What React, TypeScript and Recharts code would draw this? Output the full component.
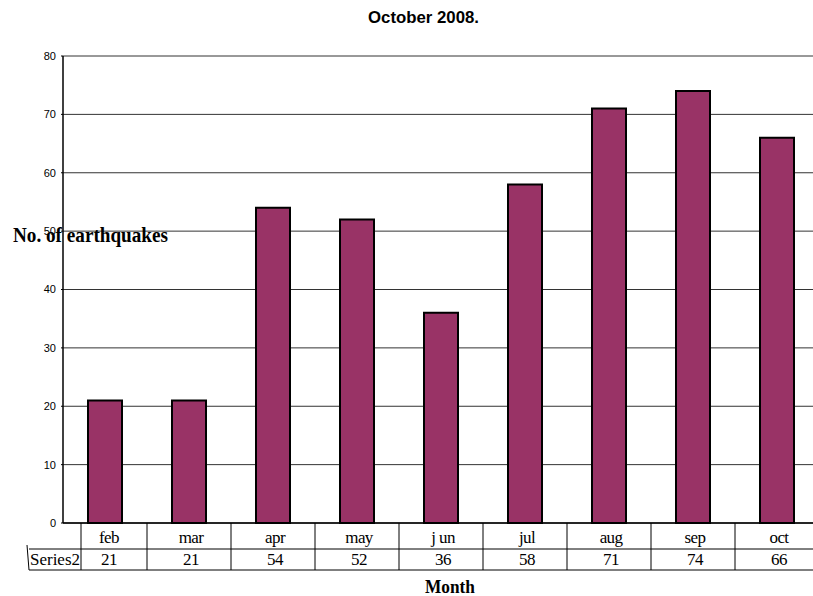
import React from 'react';
import { BarChart, Bar, XAxis, YAxis, CartesianGrid } from 'recharts';

const months = ['feb', 'mar', 'apr', 'may', 'j un', 'jul', 'aug', 'sep', 'oct'];
const quakes = [21, 21, 54, 52, 36, 58, 71, 74, 66];
const yTicks = [0, 10, 20, 30, 40, 50, 60, 70, 80];
const seriesName = 'Series2';
const titleText = 'October 2008.';
const yLabelText = 'No. of earthquakes';
const xLabelText = 'Month';

const data = months.map((m, i) => ({ month: m, value: quakes[i] }));

const SERIF = '"Liberation Serif", "Times New Roman", serif';
const SANS = '"Liberation Sans", Arial, sans-serif';

const TableTick = (props: any) => {
  const { x, y, index, payload } = props;
  const band = 84;
  const half = band / 2;
  const top = y;
  const rowSep = y + 26;
  const bottom = y + 47;
  const leftCell = x - half + 18;
  const parts: any[] = [];
  if (index === 0) {
    parts.push(
      <line key="h1" x1={29} y1={rowSep} x2={830} y2={rowSep} stroke="#000" strokeWidth={1} />,
      <line key="h2" x1={29} y1={bottom} x2={830} y2={bottom} stroke="#000" strokeWidth={1} />,
      <line key="d" x1={27} y1={rowSep - 4} x2={29} y2={bottom} stroke="#000" strokeWidth={1} />,
      <line key="v0" x1={leftCell} y1={top} x2={leftCell} y2={bottom} stroke="#000" strokeWidth={1} />,
      <text key="s" x={30} y={bottom - 5} fontFamily={SERIF} fontSize={16} fill="#000" textLength={50} lengthAdjust="spacingAndGlyphs">
        {seriesName}
      </text>
    );
  }
  const cx = index === 0 ? x + 4 : x + 2;
  parts.push(
    <line key="v" x1={x + half} y1={top} x2={x + half} y2={bottom} stroke="#000" strokeWidth={1} />,
    <text key="c" x={cx} y={top + 20} textAnchor="middle" fontFamily={SERIF} fontSize={17} fill="#000" letterSpacing={-0.6}>
      {payload.value}
    </text>,
    <text key="n" x={cx} y={bottom - 5} textAnchor="middle" fontFamily={SERIF} fontSize={17} fill="#000" letterSpacing={-0.6}>
      {String(data[index].value)}
    </text>
  );
  return <g>{parts}</g>;
};

export default function App() {
  return (
    <div style={{ position: 'absolute', left: 0, top: 0, width: 813, height: 596, overflow: 'hidden', background: '#fff' }}>
      <BarChart
        width={830}
        height={596}
        data={data}
        margin={{ top: 56, right: 11, bottom: 0, left: 0 }}
        barCategoryGap={25}
      >
        <CartesianGrid vertical={false} stroke="#333" strokeWidth={1} />
        <XAxis
          dataKey="month"
          interval={0}
          height={73}
          axisLine={{ stroke: '#000', strokeWidth: 1.5 }}
          tickLine={false}
          tickSize={0}
          tickMargin={0}
          tick={<TableTick />}
        />
        <YAxis
          domain={[0, 80]}
          ticks={yTicks}
          width={63}
          axisLine={{ stroke: '#000', strokeWidth: 1.5 }}
          tickLine={{ stroke: '#000' }}
          tickSize={2}
          tickMargin={5}
          tick={{ fontFamily: SANS, fontSize: 11, fill: '#000' }}
        />
        <Bar dataKey="value" fill="#993366" stroke="#000" strokeWidth={2} isAnimationActive={false} />
        <text x={368} y={23} fontFamily={SANS} fontWeight="bold" fontSize={17} fill="#000" textLength={111} lengthAdjust="spacingAndGlyphs">
          {titleText}
        </text>
        <text x={13} y={242} fontFamily={SERIF} fontWeight="bold" fontSize={20} fill="#000" textLength={155} lengthAdjust="spacingAndGlyphs">
          {yLabelText}
        </text>
        <text x={425} y={593} fontFamily={SERIF} fontWeight="bold" fontSize={19} fill="#000" textLength={50} lengthAdjust="spacingAndGlyphs">
          {xLabelText}
        </text>
      </BarChart>
    </div>
  );
}
